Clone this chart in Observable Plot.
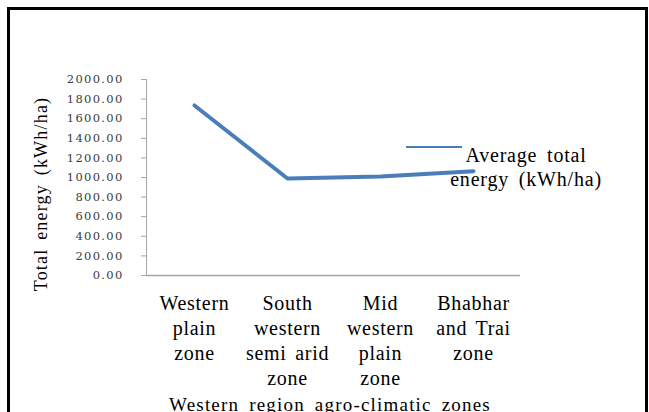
<!DOCTYPE html>
<html>
<head>
<meta charset="utf-8">
<script src="https://cdn.jsdelivr.net/npm/d3@7"></script>
<script src="https://cdn.jsdelivr.net/npm/@observablehq/plot@0.6"></script>
<style>
  html, body { margin: 0; padding: 0; background: #fff; }
  #wrap { position: relative; width: 649px; height: 412px; overflow: hidden; background: #fff; }
  #border { position: absolute; left: 7px; top: 7px; width: 641px; height: 430px; box-sizing: border-box; border: 3px solid #000; pointer-events: none; }
  #chart { position: absolute; left: 0; top: 0; }
  .serif { font-family: "Liberation Serif", "Times New Roman", serif; color: #000; position: absolute; white-space: nowrap; }
  #ytitle { left: 41px; top: 194px; font-size: 18px; letter-spacing: 1.2px; word-spacing: 3px; transform: translate(-50%, -50%) rotate(-90deg); }
  #xtitle { left: 330px; top: 405px; font-size: 19px; letter-spacing: 1.2px; word-spacing: 4px; transform: translate(-50%, -50%); }
  #legend { left: 406px; top: 143px; }
  #legend .swatch { position: absolute; left: 0; top: 3px; width: 56px; height: 2px; background: #4a7ebb; }
  #legend .txt { position: absolute; left: 120px; top: 0; transform: translateX(-50%); text-align: center; font-size: 20px; line-height: 24px; letter-spacing: 0.8px; word-spacing: 4px; }
</style>
</head>
<body>
<div id="wrap">
  <div id="chart"></div>
  <div id="ytitle" class="serif">Total energy (kWh/ha)</div>
  <div id="xtitle" class="serif">Western region agro-climatic zones</div>
  <div id="legend" class="serif"><div class="swatch"></div><div class="txt" id="legendText"></div></div>
  <div id="border"></div>
</div>
<script>
const categories = ["Western plain zone", "South western semi arid zone", "Mid western plain zone", "Bhabhar and Trai zone"];
const tickLabels = ["Western\nplain\nzone", "South\nwestern\nsemi arid\nzone", "Mid\nwestern\nplain\nzone", "Bhabhar\nand Trai\nzone"];
const averageEnergy = [1735, 990, 1010, 1065];
const yTicks = [0, 200, 400, 600, 800, 1000, 1200, 1400, 1600, 1800, 2000];
const seriesName = "Average total\nenergy (kWh/ha)";

const data = categories.map((c, i) => ({zone: c, energy: averageEnergy[i]}));

document.getElementById("legendText").innerHTML = seriesName.split("\n").join("<br>");

const chart = Plot.plot({
  width: 649,
  height: 412,
  marginLeft: 146,
  marginRight: 129,
  marginTop: 79,
  marginBottom: 137,
  style: {fontFamily: "'Liberation Serif', serif", background: "transparent", overflow: "visible"},
  x: {type: "point", domain: categories, padding: 0.5},
  y: {domain: [0, 2000], ticks: yTicks},
  marks: [
    Plot.frame({anchor: "left", stroke: "#a6a6a6", strokeWidth: 1}),
    Plot.ruleY([0], {stroke: "#a6a6a6", strokeWidth: 1.5}),
    Plot.axisY({ticks: yTicks, tickFormat: d3.format(".2f"), tickSize: 5, tickPadding: 18, stroke: "#a6a6a6",
      fontFamily: "DejaVu Serif", fontSize: 11.5, fill: "#3a3a3a", label: null}),
    Plot.axisX({tickFormat: (d) => tickLabels[categories.indexOf(d)], tickSize: 0, tickPadding: 17,
      fontSize: 20, lineHeight: 25 / 20, fill: "#000", label: null}),
    Plot.line(data, {x: "zone", y: "energy", stroke: "#4a7ebb", strokeWidth: 4, strokeLinecap: "round"})
  ]
});
document.getElementById("chart").appendChild(chart);
d3.select(chart).selectAll('g[aria-label="y-axis tick label"] text').style("letter-spacing", "1.3px");
d3.select(chart).selectAll('g[aria-label="x-axis tick label"] text').style("letter-spacing", "0.7px").style("word-spacing", "3px");
</script>
</body>
</html>
